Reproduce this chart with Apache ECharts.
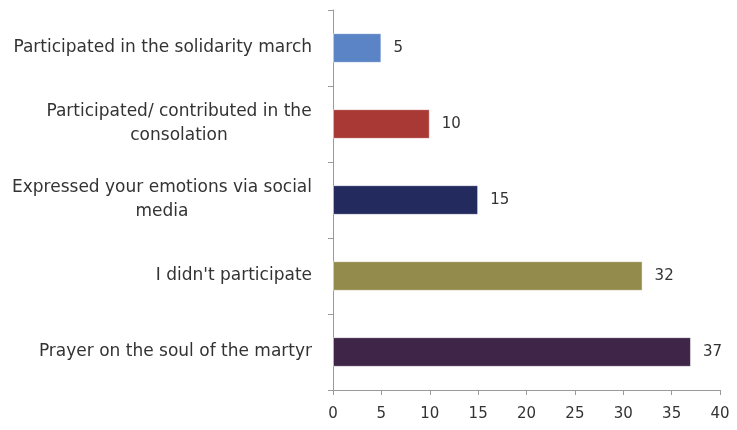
<!DOCTYPE html>
<html><head><meta charset="utf-8">
<script src="https://cdn.jsdelivr.net/npm/echarts@6/dist/echarts.min.js"></script>
<style>html,body{margin:0;padding:0;background:#fff}#c{width:737px;height:430px}</style>
</head><body><div id="c"></div>
<script>
const categories = [
  "Prayer on the soul of the martyr",
  "I didn't participate",
  "Expressed your emotions via social\nmedia",
  "Participated/ contributed in the\nconsolation",
  "Participated in the solidarity march"
];
const values = [37, 32, 15, 10, 5];
const barColors = ["#3f2548", "#928b4c", "#232a5d", "#a83935", "#5a84c5"];
const xTicks = [0, 5, 10, 15, 20, 25, 30, 35, 40];

const FONT = "DejaVu Sans";
const FS = 17;
const LH = 24;
const TXT = '#333333';
const cv = document.createElement('canvas').getContext('2d');
cv.font = FS + 'px "' + FONT + '"';
const rich = {};
function fmt(v, idx) {
  const lines = v.split('\n');
  if (lines.length === 1) return v;
  const w = Math.ceil(cv.measureText(lines[0]).width);
  const key = 'l' + idx;
  rich[key] = { width: w, align: 'center', fontFamily: FONT, fontSize: FS, color: TXT, lineHeight: LH };
  return lines.map(l => '{' + key + '|' + l + '}').join('\n');
}
const labelTexts = categories.map((c, i) => fmt(c, i));

const chart = echarts.init(document.getElementById('c'));
chart.setOption({
  animation: false,
  grid: { left: 333, right: 17, top: 10, bottom: 40 },
  xAxis: {
    type: 'value', min: xTicks[0], max: xTicks[xTicks.length - 1], interval: 5,
    axisLine: { show: true, lineStyle: { color: '#9a9a9a' } },
    axisTick: { show: true, length: 5, lineStyle: { color: '#9a9a9a' } },
    splitLine: { show: false },
    axisLabel: { fontFamily: FONT, fontSize: 15, color: TXT, margin: 17 }
  },
  yAxis: {
    type: 'category', data: categories,
    axisLine: { show: true, lineStyle: { color: '#9a9a9a' } },
    axisTick: { show: true, length: 5, lineStyle: { color: '#9a9a9a' } },
    axisLabel: {
      fontFamily: FONT, fontSize: FS, color: TXT, margin: 21, lineHeight: LH,
      formatter: (v, i) => labelTexts[i], rich: rich
    }
  },
  series: [{
    type: 'bar',
    data: values.map((v, i) => ({ value: v, itemStyle: { color: barColors[i] } })),
    barCategoryGap: '61%',
    itemStyle: { borderColor: 'rgba(255,255,255,0.5)', borderWidth: 1 },
    label: { show: true, position: 'right', distance: 12, fontFamily: FONT, fontSize: 15, color: TXT }
  }]
});
</script></body></html>
